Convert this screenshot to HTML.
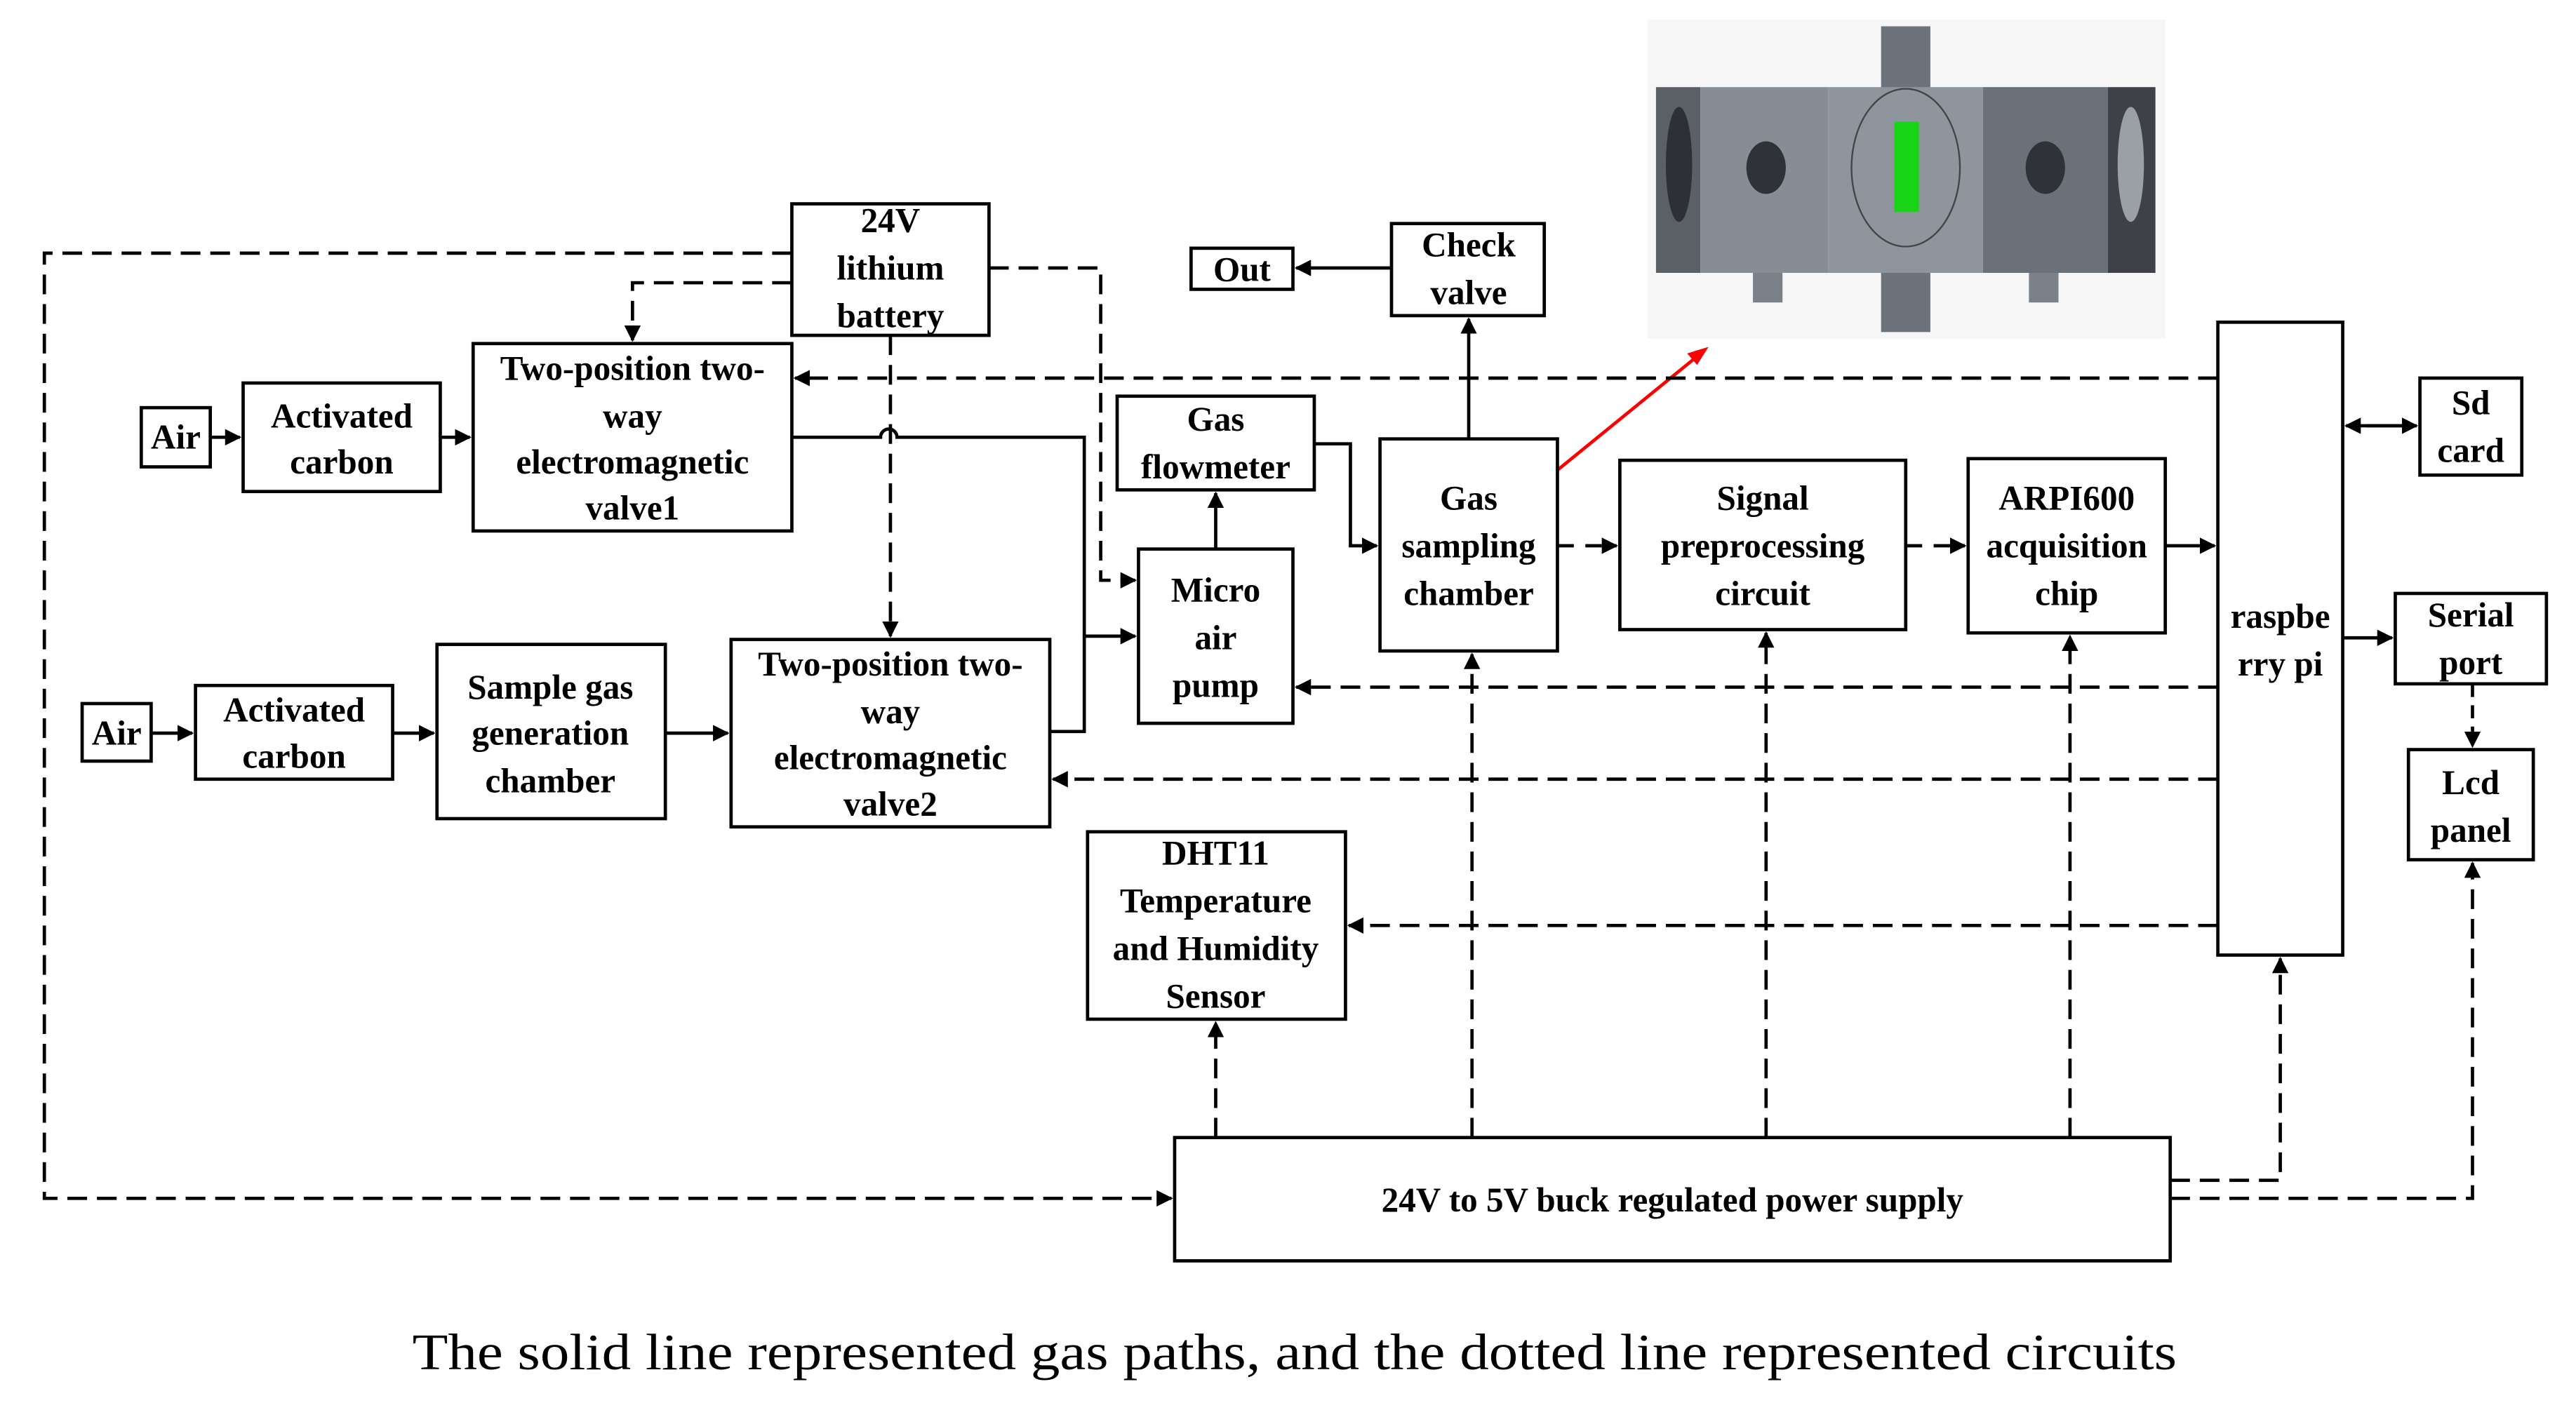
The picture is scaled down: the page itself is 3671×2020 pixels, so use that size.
<!DOCTYPE html>
<html><head><meta charset="utf-8"><style>
html,body{margin:0;padding:0;background:#fff;}
svg{display:block;}
text{font-family:"Liberation Serif",serif;font-weight:bold;font-size:21px;fill:#000;text-anchor:middle;}
</style></head><body>
<svg width="3671" height="2020" viewBox="0 0 1568 862" preserveAspectRatio="none" xmlns="http://www.w3.org/2000/svg">
<defs>
<marker id="a" markerWidth="10" markerHeight="10" refX="9" refY="5" orient="auto" markerUnits="userSpaceOnUse"><path d="M0,0 L10,5 L0,10 z" fill="#000"/></marker>
</defs>
<rect width="1568" height="862" fill="#fff"/>
<!-- picture -->
<rect x="1003" y="12" width="315" height="194" fill="#f6f6f6"/>
<rect x="1145" y="16" width="30" height="38" fill="#6d737a"/>
<rect x="1145" y="160" width="30" height="42" fill="#6d737a"/>
<rect x="1008" y="53" width="27" height="113" fill="#5b6067"/>
<rect x="1035" y="53" width="78" height="113" fill="#878d95"/>
<rect x="1113" y="53" width="94" height="113" fill="#8e959d"/>
<rect x="1207" y="53" width="76" height="113" fill="#6b7178"/>
<rect x="1283" y="53" width="29" height="113" fill="#3e4247"/>
<rect x="1067" y="166" width="18" height="18" fill="#7b8189"/>
<rect x="1235" y="166" width="18" height="18" fill="#7b8189"/>
<ellipse cx="1022" cy="100" rx="8" ry="35" fill="#2d3034"/>
<ellipse cx="1297" cy="100" rx="8" ry="35" fill="#9aa0a6"/>
<ellipse cx="1075" cy="102" rx="12" ry="16" fill="#2f3236"/>
<ellipse cx="1245" cy="102" rx="12" ry="16" fill="#2f3236"/>
<ellipse cx="1160" cy="102" rx="33" ry="48" fill="none" stroke="#444" stroke-width="1"/>
<rect x="1153" y="74" width="15" height="55" fill="#17d417"/>
<!-- red arrow -->
<line x1="948" y1="286" x2="1034" y2="216" stroke="#f00" stroke-width="2"/>
<path d="M1040,211 L1027,215 L1033,222 z" fill="#f00"/>

<g fill="none" stroke="#000" stroke-width="2">
<rect x="86" y="248" width="42" height="36"/>
<rect x="148" y="233" width="120" height="66"/>
<rect x="288" y="209" width="194" height="114"/>
<rect x="482" y="124" width="120" height="80"/>
<rect x="50" y="428" width="42" height="35"/>
<rect x="119" y="417" width="120" height="57"/>
<rect x="266" y="392" width="139" height="106"/>
<rect x="445" y="389" width="194" height="114"/>
<rect x="680" y="241" width="120" height="57"/>
<rect x="693" y="334" width="94" height="106"/>
<rect x="725" y="151" width="62" height="25"/>
<rect x="847" y="136" width="93" height="56"/>
<rect x="840" y="267" width="108" height="129"/>
<rect x="986" y="280" width="174" height="103"/>
<rect x="1198" y="279" width="120" height="106"/>
<rect x="1350" y="196" width="76" height="385"/>
<rect x="1473" y="230" width="62" height="59"/>
<rect x="1458" y="361" width="92" height="55"/>
<rect x="1466" y="456" width="76" height="67"/>
<rect x="662" y="506" width="157" height="114"/>
<rect x="715" y="692" width="606" height="75"/>
</g>

<g fill="none" stroke="#000" stroke-width="2">
<line x1="128" y1="266" x2="146" y2="266" marker-end="url(#a)"/>
<line x1="268" y1="266" x2="286" y2="266" marker-end="url(#a)"/>
<line x1="92" y1="446" x2="117" y2="446" marker-end="url(#a)"/>
<line x1="239" y1="446" x2="264" y2="446" marker-end="url(#a)"/>
<line x1="405" y1="446" x2="443" y2="446" marker-end="url(#a)"/>
<path d="M482,266 H536 a5,5 0 0 1 10,0 H660 V387"/>
<path d="M639,445 H660 V387 H691" marker-end="url(#a)"/>
<line x1="740" y1="334" x2="740" y2="300" marker-end="url(#a)"/>
<path d="M800,270 H822 V332 H838" marker-end="url(#a)"/>
<path d="M894,267 V194" marker-end="url(#a)"/>
<line x1="847" y1="163" x2="789" y2="163" marker-end="url(#a)"/>
<line x1="948" y1="332" x2="984" y2="332" stroke-dasharray="10,7" marker-end="url(#a)"/>
<line x1="1160" y1="332" x2="1196" y2="332" stroke-dasharray="10,7" marker-end="url(#a)"/>
<line x1="1318" y1="332" x2="1348" y2="332" marker-end="url(#a)"/>
<line x1="1426" y1="388" x2="1456" y2="388" marker-end="url(#a)"/>
<line x1="1505" y1="416" x2="1505" y2="454" stroke-dasharray="8,5" marker-end="url(#a)"/>
<line x1="1440" y1="259" x2="1471" y2="259" marker-end="url(#a)"/>
<line x1="1462" y1="259" x2="1428" y2="259" marker-end="url(#a)"/>
</g>

<g fill="none" stroke="#000" stroke-width="2" stroke-dasharray="12,6">
<path d="M482,154 H27 V729 H713" marker-end="url(#a)"/>
<path d="M482,172 H385 V207" marker-end="url(#a)"/>
<path d="M542,204 V387" marker-end="url(#a)"/>
<path d="M602,163 H670 V353 H691" marker-end="url(#a)"/>
<path d="M1350,230 H484" marker-end="url(#a)"/>
<path d="M1350,418 H789" marker-end="url(#a)"/>
<path d="M1350,474 H641" marker-end="url(#a)"/>
<path d="M1350,563 H821" marker-end="url(#a)"/>
<path d="M740,692 V622" marker-end="url(#a)"/>
<path d="M896,692 V398" marker-end="url(#a)"/>
<path d="M1075,692 V385" marker-end="url(#a)"/>
<path d="M1260,692 V387" marker-end="url(#a)"/>
<path d="M1321,718 H1388 V583" marker-end="url(#a)"/>
<path d="M1321,729 H1505 V525" marker-end="url(#a)"/>
</g>

<text x="107" y="273">Air</text>
<text x="71" y="453">Air</text>
<text x="208" y="260">Activated</text><text x="208" y="288">carbon</text>
<text x="179" y="439">Activated</text><text x="179" y="467">carbon</text>
<text x="385" y="231">Two-position two-</text><text x="385" y="260">way</text><text x="385" y="288">electromagnetic</text><text x="385" y="316">valve1</text>
<text x="542" y="141">24V</text><text x="542" y="170">lithium</text><text x="542" y="199">battery</text>
<text x="335" y="425">Sample gas</text><text x="335" y="453">generation</text><text x="335" y="482">chamber</text>
<text x="542" y="411">Two-position two-</text><text x="542" y="440">way</text><text x="542" y="468">electromagnetic</text><text x="542" y="496">valve2</text>
<text x="740" y="262">Gas</text><text x="740" y="291">flowmeter</text>
<text x="740" y="366">Micro</text><text x="740" y="395">air</text><text x="740" y="424">pump</text>
<text x="756" y="171">Out</text>
<text x="894" y="156">Check</text><text x="894" y="185">valve</text>
<text x="894" y="310">Gas</text><text x="894" y="339">sampling</text><text x="894" y="368">chamber</text>
<text x="1073" y="310">Signal</text><text x="1073" y="339">preprocessing</text><text x="1073" y="368">circuit</text>
<text x="1258" y="310">ARPI600</text><text x="1258" y="339">acquisition</text><text x="1258" y="368">chip</text>
<text x="1388" y="382">raspbe</text><text x="1388" y="411">rry pi</text>
<text x="1504" y="252">Sd</text><text x="1504" y="281">card</text>
<text x="1504" y="381">Serial</text><text x="1504" y="410">port</text>
<text x="1504" y="483">Lcd</text><text x="1504" y="512">panel</text>
<text x="740" y="526">DHT11</text><text x="740" y="555">Temperature</text><text x="740" y="584">and Humidity</text><text x="740" y="613">Sensor</text>
<text x="1018" y="737">24V to 5V buck regulated power supply</text>
<text x="788" y="833" textLength="1074" lengthAdjust="spacingAndGlyphs" style="font-weight:normal;font-size:31px">The solid line represented gas paths, and the dotted line represented circuits</text>
</svg>
</body></html>
